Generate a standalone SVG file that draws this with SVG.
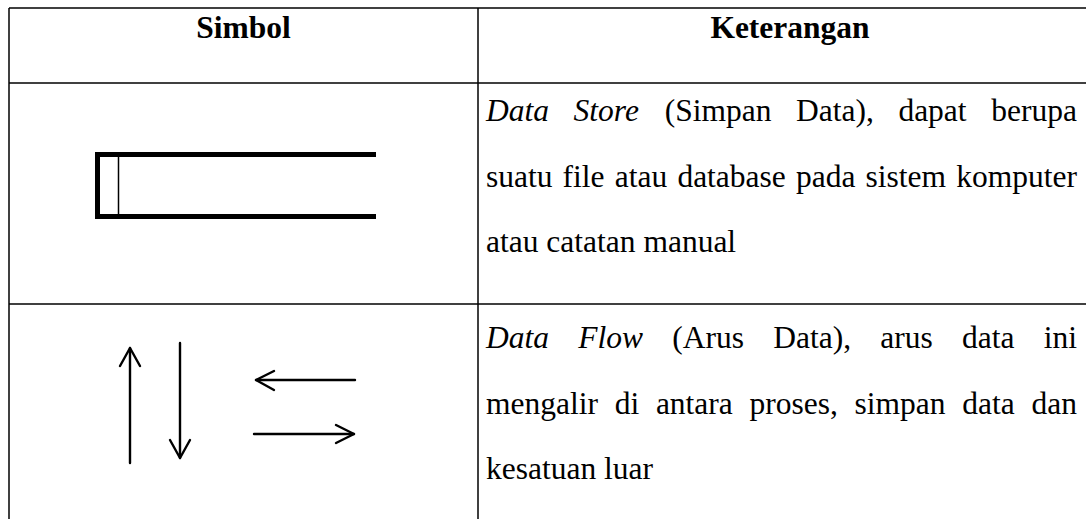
<svg xmlns="http://www.w3.org/2000/svg" width="1086" height="519" viewBox="0 0 1086 519">
  <style>
    .grid { stroke: #000; stroke-width: 1.5; fill: none; }
    .head { font-family: "Liberation Serif", "Times New Roman", serif; font-size: 31.5px; font-weight: bold; fill: #000; text-anchor: middle; }
    .body { font-family: "Liberation Serif", "Times New Roman", serif; font-size: 31.5px; fill: #000; }
    .it { font-style: italic; }
    .store { stroke: #000; stroke-width: 5; fill: none; stroke-linejoin: miter; }
    .store-thin { stroke: #000; stroke-width: 1.5; fill: none; }
    .flow { stroke: #000; stroke-width: 2.4; fill: none; stroke-linecap: round; stroke-linejoin: round; }
  </style>
  <rect x="0" y="0" width="1086" height="519" fill="#fff"/>

  <!-- table grid -->
  <g id="table-grid" class="grid">
    <line x1="9" y1="8" x2="1086" y2="8"/>
    <line x1="9" y1="83" x2="1086" y2="83"/>
    <line x1="9" y1="304" x2="1086" y2="304"/>
    <line x1="9" y1="8" x2="9" y2="519"/>
    <line x1="478" y1="8" x2="478" y2="519"/>
  </g>

  <!-- header row -->
  <g id="header">
    <text class="head" x="243.5" y="38">Simbol</text>
    <text class="head" x="790" y="38">Keterangan</text>
  </g>

  <!-- data store symbol -->
  <g id="data-store-symbol">
    <path class="store" d="M376,154.5 H97.5 V216.5 H376"/>
    <line class="store-thin" x1="118.5" y1="157" x2="118.5" y2="214"/>
  </g>

  <!-- data store description -->
  <g id="data-store-text" class="body">
    <text y="120.5"><tspan class="it" x="486">Data</tspan><tspan class="it" x="573.6">Store</tspan><tspan x="664.7">(Simpan</tspan><tspan x="796">Data),</tspan><tspan x="898.4">dapat</tspan><tspan x="991.3">berupa</tspan></text>
    <text y="186.5"><tspan x="486">suatu</tspan><tspan x="562.6">file</tspan><tspan x="614.8">atau</tspan><tspan x="677.4">database</tspan><tspan x="796">pada</tspan><tspan x="865.6">sistem</tspan><tspan x="956.3">komputer</tspan></text>
    <text x="486" y="251.5">atau catatan manual</text>
  </g>

  <!-- data flow symbol -->
  <g id="data-flow-symbol" class="flow">
    <line x1="130" y1="463" x2="130" y2="348"/>
    <polyline points="120,366 130,348 140,366"/>
    <line x1="180" y1="343" x2="180" y2="458"/>
    <polyline points="170,440 180,458 190,440"/>
    <line x1="355" y1="380" x2="256" y2="380"/>
    <polyline points="274,371 256,380 274,390"/>
    <line x1="254" y1="434" x2="354" y2="434"/>
    <polyline points="336,425 354,434 336,443"/>
  </g>

  <!-- data flow description -->
  <g id="data-flow-text" class="body">
    <text y="347.5"><tspan class="it" x="486">Data</tspan><tspan class="it" x="578.2">Flow</tspan><tspan x="672.2">(Arus</tspan><tspan x="773.2">Data),</tspan><tspan x="880.3">arus</tspan><tspan x="962">data</tspan><tspan x="1043.7">ini</tspan></text>
    <text y="414"><tspan x="486">mengalir</tspan><tspan x="614.7">di</tspan><tspan x="655.9">antara</tspan><tspan x="749.5">proses,</tspan><tspan x="854.6">simpan</tspan><tspan x="962.3">data</tspan><tspan x="1031.5">dan</tspan></text>
    <text x="486" y="479">kesatuan luar</text>
  </g>
</svg>
